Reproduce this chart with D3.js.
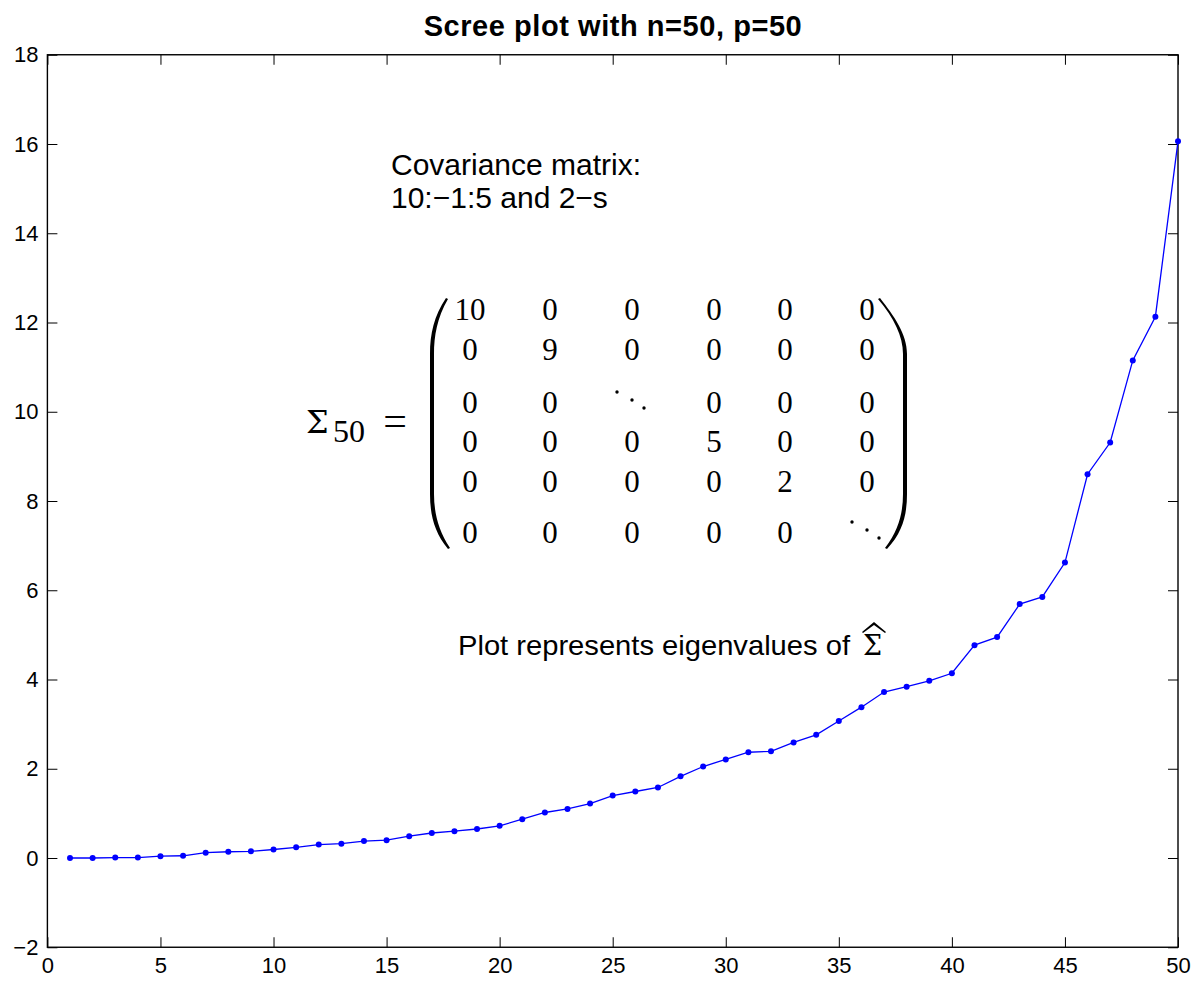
<!DOCTYPE html>
<html>
<head>
<meta charset="utf-8">
<script src="https://cdn.jsdelivr.net/npm/d3@7"></script>
<style>
  body { margin: 0; background: #fff; }
  svg { display: block; }
</style>
</head>
<body>
<script>
// Sample eigenvalues (ascending) of the estimated covariance, n = 50, p = 50
const componentIndex = d3.range(1, 51);
const eigenvalues = [
  0.00, 0.00, 0.01, 0.01, 0.04, 0.05, 0.12, 0.14, 0.15, 0.19,
  0.24, 0.30, 0.32, 0.38, 0.40, 0.49, 0.56, 0.60, 0.65, 0.72,
  0.87, 1.02, 1.10, 1.22, 1.40, 1.49, 1.58, 1.83, 2.05, 2.21,
  2.37, 2.39, 2.59, 2.76, 3.07, 3.38, 3.72, 3.84, 3.97, 4.14,
  4.77, 4.95, 5.69, 5.85, 6.62, 8.60, 9.31, 11.15, 12.13, 16.06
];
const xTicks = [0, 5, 10, 15, 20, 25, 30, 35, 40, 45, 50];
const yTicks = [-2, 0, 2, 4, 6, 8, 10, 12, 14, 16, 18];

const titleText = "Scree plot with n=50, p=50";
const noteLines = ["Covariance matrix:", "10:\u22121:5 and 2\u2212s"];
const captionText = "Plot represents eigenvalues of";
// "dd" marks a diagonal-dots entry
const matrixRows = [
  ["10", "0", "0",  "0", "0", "0"],
  ["0",  "9", "0",  "0", "0", "0"],
  ["0",  "0", "dd", "0", "0", "0"],
  ["0",  "0", "0",  "5", "0", "0"],
  ["0",  "0", "0",  "0", "2", "0"],
  ["0",  "0", "0",  "0", "0", "dd"]
];

const W = 1196, H = 984;
const plot = { left: 47.4, right: 1178, top: 54.75, bottom: 947.25 };

const svg = d3.select("body").append("svg")
  .attr("width", W).attr("height", H)
  .style("background", "#fff");

const x = d3.scaleLinear().domain([0, 50]).range([plot.left, plot.right]);
const y = d3.scaleLinear().domain([-2, 18]).range([plot.bottom, plot.top]);

const sans = "Arial, 'Liberation Sans', Helvetica, sans-serif";
const serif = "'Liberation Serif', 'Times New Roman', serif";
const mathSerif = "'DejaVu Serif', serif";

// Axes: ticks drawn inward on all four sides, labels on bottom and left
function styleAxis(g, showLabels) {
  g.select(".domain").remove();
  g.selectAll(".tick line").attr("stroke", "#000").attr("stroke-width", 1);
  g.selectAll(".tick text")
    .attr("fill", "#000")
    .style("font-family", sans)
    .style("font-size", "22px")
    .style("display", showLabels ? null : "none");
}

svg.append("g")
  .attr("transform", `translate(0,${plot.bottom})`)
  .call(d3.axisBottom(x).tickValues(xTicks).tickSizeInner(-10).tickSizeOuter(0).tickPadding(10))
  .call(g => styleAxis(g, true));

svg.append("g")
  .attr("transform", `translate(0,${plot.top})`)
  .call(d3.axisTop(x).tickValues(xTicks).tickSizeInner(-10).tickSizeOuter(0))
  .call(g => styleAxis(g, false));

svg.append("g")
  .attr("transform", `translate(${plot.left},0)`)
  .call(d3.axisLeft(y).tickValues(yTicks).tickSizeInner(-10).tickSizeOuter(0).tickPadding(9))
  .call(g => styleAxis(g, true));

svg.append("g")
  .attr("transform", `translate(${plot.right},0)`)
  .call(d3.axisRight(y).tickValues(yTicks).tickSizeInner(-10).tickSizeOuter(0))
  .call(g => styleAxis(g, false));

// Axes box
svg.append("rect")
  .attr("x", plot.left).attr("y", plot.top)
  .attr("width", plot.right - plot.left).attr("height", plot.bottom - plot.top)
  .attr("fill", "none").attr("stroke", "#000").attr("stroke-width", 1.4);

// Title
svg.append("text")
  .attr("x", (plot.left + plot.right) / 2).attr("y", 36)
  .attr("text-anchor", "middle")
  .style("font-family", sans).style("font-weight", "bold").style("font-size", "29px")
  .attr("textLength", 378).attr("lengthAdjust", "spacing")
  .text(titleText);

// Scree line with dot markers
const pts = componentIndex.map((k, i) => [k, eigenvalues[i]]);
svg.append("path")
  .datum(pts)
  .attr("fill", "none").attr("stroke", "#0000ff").attr("stroke-width", 1.3)
  .attr("d", d3.line().x(d => x(d[0])).y(d => y(d[1])));
svg.append("g").selectAll("circle").data(pts).join("circle")
  .attr("cx", d => x(d[0])).attr("cy", d => y(d[1])).attr("r", 3)
  .attr("fill", "#0000ff");

// Annotation text
svg.append("g").selectAll("text").data(noteLines).join("text")
  .attr("x", 391).attr("y", (d, i) => 175 + i * 33)
  .style("font-family", sans).style("font-size", "30px")
  .text(d => d);

// Matrix: Sigma_50 = ( ... )
const mat = svg.append("g");
mat.append("text").attr("x", 306).attr("y", 433)
  .style("font-family", mathSerif).style("font-size", "32px").text("\u03A3");
mat.append("text").attr("x", 333).attr("y", 442)
  .style("font-family", serif).style("font-size", "32px").text("50");
mat.append("text").attr("x", 395).attr("y", 435).attr("text-anchor", "middle")
  .style("font-family", serif).style("font-size", "42px").text("=");

const colX = [470, 550, 632, 714, 785, 867];
const rowY = [320, 360, 413, 452, 492, 543];
matrixRows.forEach((row, r) => {
  row.forEach((v, c) => {
    if (v === "dd") {
      [[-15, -21], [0, -13], [12, -5]].forEach(o => {
        mat.append("circle").attr("cx", colX[c] + o[0]).attr("cy", rowY[r] + o[1])
          .attr("r", 1.7).attr("fill", "#000");
      });
    } else {
      mat.append("text").attr("x", colX[c]).attr("y", rowY[r])
        .attr("text-anchor", "middle")
        .style("font-family", serif).style("font-size", "31px")
        .text(v);
    }
  });
});

// Large parentheses: curved hooks joined by straight extensions
mat.append("path")
  .attr("d", "M446,298 C434,316 430,334 430,354 L430,494 C430,514 434,532 448,549 " +
             "L450,548 C438,530 434,512 434,494 L434,354 C434,336 437,318 448,299 Z")
  .attr("fill", "#000");
mat.append("path")
  .attr("d", "M880,298 C894,316 907,334 907,354 L907,494 C907,514 903,532 887,549 " +
             "L885,548 C899,530 903,512 903,494 L903,354 C903,336 894,318 878,299 Z")
  .attr("fill", "#000");

// Caption with hatted Sigma
const cap = svg.append("g");
cap.append("text").attr("x", 458).attr("y", 655)
  .style("font-family", "'Liberation Sans', Arial, sans-serif").style("font-size", "28px")
  .attr("textLength", 392).attr("lengthAdjust", "spacingAndGlyphs")
  .text(captionText);
cap.append("text").attr("x", 863).attr("y", 655)
  .style("font-family", mathSerif).style("font-size", "27px").text("\u03A3");
cap.append("path")
  .attr("d", "M862,632 L874,622 L886,632 L885,633 L874,625 L863,633 Z")
  .attr("fill", "#000");
</script>
</body>
</html>
